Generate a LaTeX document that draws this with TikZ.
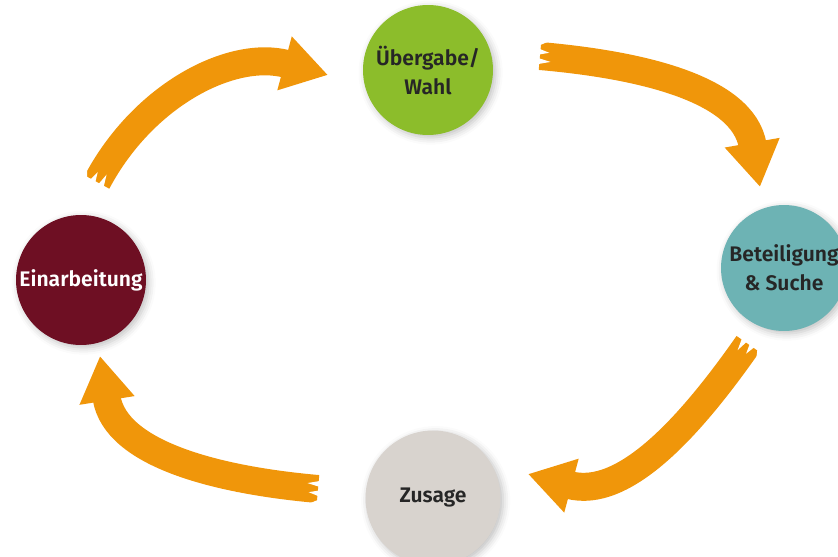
\documentclass[tikz,border=0pt]{standalone}
\usepackage{fontspec}
\setmainfont{Fira Sans}[BoldFont={Fira Sans SemiBold}]
\usetikzlibrary{arrows.meta,decorations.markings,shadows.blur}
\definecolor{gruen}{HTML}{8CBD2B}
\definecolor{tuerkis}{HTML}{6DB3B4}
\definecolor{weinrot}{HTML}{6E0F23}
\definecolor{hellgrau}{HTML}{D8D3CE}
\definecolor{pfeilfarbe}{HTML}{F0960A}
\begin{document}
\begin{tikzpicture}[x=0.02cm, y=0.02cm, line join=round,
       	font=\fontsize{12}{16.5}\selectfont\bfseries,
       	kreis/.style={circle, minimum size=2.6cm, inner sep=0pt, align=center, text=black!85,
       		blur shadow={shadow xshift=1.5pt, shadow yshift=-1.5pt, shadow opacity=25, shadow blur radius=4pt}},
       	pfeilzug/.style={draw=pfeilfarbe, line width=0.56cm, -{Triangle[width=1.05cm, length=0.9cm]},
       		postaction={decorate}, decoration={markings, mark=at position 0 with {
       			\fill[white] (-0.05cm,-0.17cm) -- (0.22cm,-0.1cm) -- (-0.05cm,-0.04cm) -- cycle;
       			\fill[white] (-0.05cm,0.02cm) -- (0.18cm,0.08cm) -- (-0.05cm,0.15cm) -- cycle;
       			\fill[white] (-0.05cm,0.2cm) -- (0.12cm,0.29cm) -- (-0.05cm,0.3cm) -- cycle;}}}]
       	\useasboundingbox (0,0) rectangle (838,556);
       	% Kreise
       	\node[kreis, fill=gruen] (ueb) at (428,486) {Übergabe/\\Wahl};
       	\node[kreis, fill=tuerkis, minimum size=2.52cm] (bet) at (784,288) {Beteiligung\\\& Suche};
       	\node[kreis, fill=weinrot, text=white] (ein) at (81,276) {Einarbeitung};
       	\node[kreis, fill=hellgrau, minimum size=2.7cm] (zus) at (433,58) {Zusage};
       	% Pfeile
       	\coordinate (p1a) at (97,374); \coordinate (p1b) at (328,481);
       	\coordinate (p2a) at (540,500); \coordinate (p2b) at (760,369);
       	\coordinate (p3a) at (748,212); \coordinate (p3b) at (528,82);
       	\coordinate (p4a) at (318,67); \coordinate (p4b) at (100,200);
       	\draw[pfeilzug] (p1a) to[out=62, in=165] (p1b);
       	\draw[pfeilzug] (p2a) to[out=-5, in=100] (p2b);
       	\draw[pfeilzug] (p3a) to[out=235, in=-15] (p3b);
       	\draw[pfeilzug] (p4a) to[out=175, in=-81] (p4b);
\end{tikzpicture}
\end{document}
